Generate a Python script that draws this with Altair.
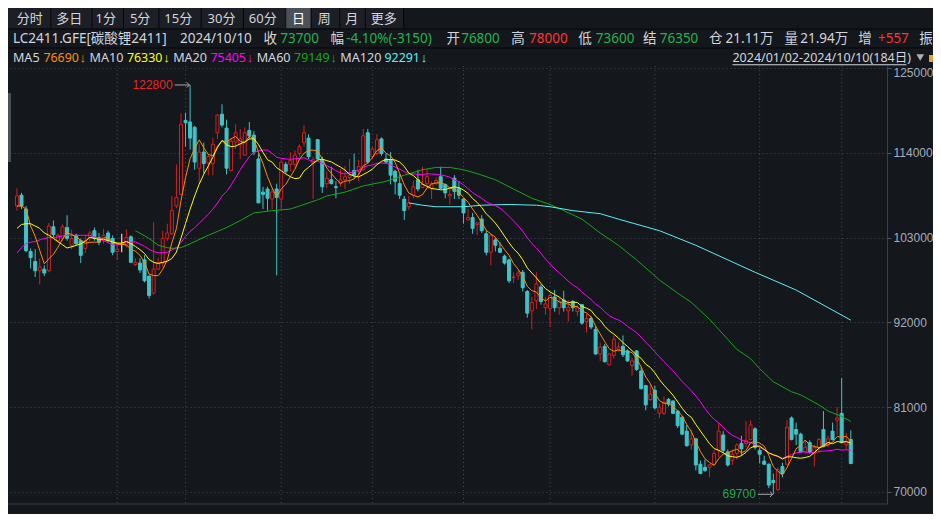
import altair as alt
import pandas as pd

# ---------------- data ----------------
opens = [107100,108500,106700,101200,99900,98700,98900,98700,104400,102600,
         102900,104300,102000,103300,102600,101600,103000,103900,103000,102600,
         103600,102900,101200,102100,102000,103100,99500,99700,100100,98000,
         95800,98900,99700,102900,103500,107100,108600,118200,118000,117300,
         112000,114100,112700,112600,116600,119000,117200,111700,115400,115100,
         113700,116900,116300,113200,108900,109300,108000,109300,108000,112500,
         112500,112500,113900,115300,115900,112700,115700,113100,110000,110500,
         109600,110000,110500,110800,111700,111600,111800,116600,113500,113900,
         115800,113200,113100,111600,110000,108000,107000,108500,110500,109500,
         110000,109400,110000,110900,109900,108400,110700,109400,108000,105300,
         105600,104700,105400,103500,101100,102700,101600,100600,100100,97800,
         98100,98500,96000,93500,94800,96600,93900,93800,95300,93900,
         94900,93500,94700,93400,94300,92100,92500,91100,87900,88900,
         86500,87700,88500,88900,88300,86400,88300,85700,83800,82000,
         83200,80200,80200,82000,81800,80500,79700,77900,76100,76900,
         73600,73200,73200,73600,75400,77400,75200,74100,75000,76300,
         76300,76800,78200,75400,74000,73600,71500,70300,73300,73600,
         79600,78100,77500,75200,76400,75000,75800,78100,76100,77900,
         79300,80200,76100,76800]
highs = [109400,108800,107100,101600,101500,100300,99400,104900,105200,103500,
         104700,105900,104000,103500,102900,103300,103900,104300,103600,104100,
         103900,103300,102200,103500,104100,103300,100300,100300,100700,98100,
         105000,100400,103900,104800,108400,112500,119100,119200,122800,117500,
         115100,115300,113900,115900,119000,120300,118300,115900,117700,117100,
         117300,118000,116800,113900,109600,109600,109300,110000,113100,112800,
         114100,114300,115100,117600,116400,113500,115800,113500,111600,112200,
         110300,111900,112300,113200,113900,113100,117100,117100,114800,116400,
         116000,113900,114100,111800,111200,108400,108400,110400,111800,112200,
         111800,110300,110800,112200,110000,109400,111100,110300,108100,106700,
         106200,105000,105900,103900,103500,103000,102400,100800,100300,98500,
         98800,98800,96200,95300,98500,96900,95300,95800,96200,95200,
         96100,94900,94900,94300,94400,93100,92800,91500,89400,89200,
         88000,90300,89400,90300,88500,87400,88400,86200,83900,83900,
         83800,81500,82400,82200,81900,80600,79800,78700,78100,77000,
         74100,74200,73600,75400,79000,77900,75500,75500,76300,77300,
         79200,79300,78400,75800,74700,73700,72400,73200,73800,79300,
         79800,79000,77700,76700,76700,76100,77000,80500,77300,79000,
         81000,84800,77700,78000]
lows = [106500,106700,101100,99000,97900,96900,98000,98500,102900,102400,
        102600,102600,101500,102000,99700,101000,102600,102600,102000,102200,
        102400,100700,100100,101100,101700,99700,99300,98400,97200,95100,
        95600,98800,99200,102600,103300,106800,108500,114800,114400,111800,
        110000,111300,111100,111100,115800,117300,111200,111600,114500,113200,
        113700,115800,113700,107500,106700,106500,106700,98100,106700,111300,
        111600,112100,113500,114800,113200,108000,113100,108800,109400,109900,
        108100,109600,109300,110000,110700,110300,111600,112600,113200,113700,
        113600,112600,109900,108600,108000,105300,106600,108100,109000,109400,
        109600,108000,109800,109300,108100,107300,108000,108000,104800,105200,
        103500,103300,103600,100700,99400,101200,101000,99500,97100,97100,
        97500,96000,92600,91100,93700,94300,93000,91400,93400,93000,
        93400,92100,93400,92800,91700,90700,91100,87800,87000,86800,
        86400,87300,88200,87500,86900,85100,85700,83300,80600,81800,
        80700,79600,80000,81100,80100,78300,77400,75900,75500,72800,
        72300,72600,71900,73500,74500,75100,73300,73500,74200,74700,
        75800,76700,75500,73700,73500,70500,69700,70100,71900,73500,
        76700,76100,75100,74900,75000,73300,75100,75800,75800,76700,
        77400,76300,75500,73600]
closes = [108400,107100,101300,100400,98700,99200,98400,104500,103400,103300,
          104400,102900,102900,102200,100700,102600,103600,102900,102400,103300,
          102600,101100,101500,102100,103000,99800,99800,98800,97400,95500,
          98900,99700,102900,103600,106500,108200,117700,117900,115900,112800,
          114100,112600,113500,115100,118900,117600,112000,115500,116600,115800,
          116600,116200,114100,107500,108600,108100,108900,108200,112800,111600,
          113000,113700,114800,116600,113500,113100,113200,109600,110700,110000,
          109500,110500,110900,111100,111100,112200,116200,112800,114500,115700,
          113900,112800,111100,110300,108500,106500,107500,109600,109300,109900,
          110900,110000,110400,109400,108800,108600,109000,108500,106200,105600,
          104200,104900,103900,101100,103300,102000,101100,99700,97400,97900,
          98400,96500,93200,94600,97000,94700,94400,95500,93900,94700,
          93900,93900,93900,93900,91900,92500,91400,87900,88800,86900,
          87900,89800,88800,87800,87000,87000,85900,83400,81300,82700,
          80900,81000,81600,81400,80200,78600,77500,76000,76900,73500,
          72400,72800,73500,75000,77900,75400,73500,74900,76100,75600,
          76700,78700,75800,74900,73600,70900,71200,72900,72400,78400,
          76800,77500,75200,75800,75200,75800,76800,75900,76900,76800,
          79600,76400,76400,73700]

early_ma5 = [107100, 107100, 106700, 104500]
early_ma10 = [104200, 104700, 104800, 104800, 104500, 104200, 103600, 103300, 102900]
early_ma20 = [101000, 101700, 102200, 102400, 102500, 102700, 102900, 103000, 103000, 103100,
              103200, 103300, 103300, 103300, 103300, 103300, 103300, 103100, 102900]

ma60_idx = [26, 29, 31, 33, 34, 36, 38, 42, 46, 49, 52, 56, 60, 63, 66, 68, 72, 76, 81, 85,
            89, 92, 95, 98, 101, 105, 109, 113, 117, 120, 124, 128, 132, 136, 141, 145, 148,
            152, 156, 158, 161, 163, 166, 170, 172, 176, 178, 181, 183]
ma60_val = [103900, 102900, 102000, 101700, 101600, 101700, 102200, 103300, 104300, 105200,
            106200, 106500, 106700, 107300, 107900, 108400, 108900, 109700, 110300, 111100,
            111800, 112100, 112100, 111800, 111300, 110500, 109300, 108100, 107300, 106500,
            105400, 103600, 102000, 100100, 97500, 95800, 94600, 92400, 89800, 88500, 87300,
            86000, 84300, 83000, 82600, 81300, 80500, 79800, 79149]
ma120_idx = [86, 89, 92, 98, 102, 108, 114, 117, 122, 128, 132, 141, 149, 162, 171, 183]
ma120_val = [107500, 107200, 107000, 107000, 107200, 107300, 107200, 107000, 106500, 106100,
             105400, 103900, 102000, 98500, 96200, 92291]

month_idx = [22, 37, 58, 78, 98, 117, 140, 163, 181]
y_ticks = [70000, 81000, 92000, 103000, 114000, 125000]

high_idx, high_val = 38, 122800
low_idx, low_val = 166, 69700

toolbar_labels = ["分时", "多日", "1分", "5分", "15分", "30分", "60分", "日", "周", "月", "更多"]
quote_row = [("LC2411.GFE[碳酸锂2411]", "t"), ("2024/10/10", "t"), ("收", "t"), ("73700", "g"),
             ("幅", "t"), ("-4.10%(-3150)", "g"), ("开", "t"), ("76800", "g"), ("高", "t"),
             ("78000", "r"), ("低", "t"), ("73600", "g"), ("结", "t"), ("76350", "g"),
             ("仓", "t"), ("21.11万", "t"), ("量", "t"), ("21.94万", "t"), ("增", "t"),
             ("+557", "r"), ("振", "t")]
ma_names = ["MA5", "MA10", "MA20", "MA60", "MA120"]
ma_latest = ["76690", "76330", "75405", "79149", "92291"]
ma_trend = "↓"
range_label = "2024/01/02-2024/10/10(184日)"

# ---------------- layout / style ----------------
BG = "#14171c"
UP = "#d81e1e"
DOWN = "#3fc4c8"
C5, C10, C20, C60, C120 = "#ff8c00", "#ffff00", "#ff00ff", "#13a813", "#5af0f6"
MA_COLORS = [C5, C10, C20, C60, C120]
GRID = "#474b52"
TXT = "#d2d6dc"
COLORS = {"t": TXT, "g": "#22b34f", "r": "#ff3333"}
HF = "Noto Sans, Noto Sans CJK SC, sans-serif"
W, H = 879, 438
TOP, RIGHT, BOTTOM = 58, 46, 10
SX = 925 / 941.0

xs = alt.Scale(domain=[-0.868, 189.85], nice=False, zero=False)
ys = alt.Scale(domain=[68443, 125259], nice=False, zero=False)
yaxis = alt.Axis(orient="right", values=y_ticks, format="d", title=None,
                 grid=True, gridColor=GRID, gridDash=[1, 3], gridWidth=1,
                 domain=True, domainColor="#3c4047", ticks=True, tickColor="#4f545c",
                 tickSize=4, labelColor="#a4adbb", labelFont="Liberation Sans",
                 labelFontSize=12, labelPadding=2, labelFlush=5)
xaxis = None

n = len(closes)
kind = []
for o, c in zip(opens, closes):
    kind.append("doji" if o == c else ("up" if c > o else "down"))
df = pd.DataFrame({"i": list(range(n)), "o": opens, "h": highs, "l": lows, "c": closes, "k": kind})

early_rows = []
for j in range(len(early_ma20)):
    row = {"i": j, "e20": early_ma20[j]}
    if j < len(early_ma5):
        row["e5"] = early_ma5[j]
    if j < len(early_ma10):
        row["e10"] = early_ma10[j]
    early_rows.append(row)

dummy = pd.DataFrame({"d": [0]})


def hx(x):
    return x * SX


def text(s, x, y, color=TXT, size=13.5, font=HF, align="left", **kw):
    return alt.Chart(dummy).mark_text(text=s, align=align, baseline="middle", color=color,
                                      fontSize=size, font=font, **kw).encode(
        x=alt.value(x), y=alt.value(y - TOP))


def rect(x1, x2, y1, y2, color):
    return alt.Chart(dummy).mark_rect(color=color).encode(
        x=alt.value(x1), x2=alt.value(x2), y=alt.value(y1 - TOP), y2=alt.value(y2 - TOP))


layers = []

# toolbar
tb_left = [9, 49, 89, 124, 159, 203, 245, 289, 315, 343, 369]
tb_seps = [43, 85, 117, 153, 196, 239, 282, 308, 337, 363, 402]
layers.append(rect(0, hx(402), 0, 20.5, "#1c1f25"))
layers.append(rect(hx(282), hx(308), 0, 20.5, "#4b5059"))
for s in tb_seps:
    layers.append(rect(hx(s), hx(s) + 1, 0, 20.5, "#050607"))
for lab, x in zip(toolbar_labels, tb_left):
    layers.append(text(lab, hx(x), 10.5, color="#ffffff" if lab == "日" else TXT, size=13))
layers.append(rect(0, 925, 20.5, 21.5, "#050607"))
layers.append(rect(0, 925, 39.5, 40.5, "#050607"))

# quote row
q_left = [5, 175, 260, 277, 328, 344, 446, 461, 512, 530, 580, 598, 646, 663, 713, 730,
          790, 806, 865, 885, 927]
for (s, c), x in zip(quote_row, q_left):
    layers.append(text(s, hx(x), 30.5, color=COLORS[c]))

# MA row
name_left = [5, 83, 168, 253, 338]
val_left = [36, 121, 206, 291, 383]
for nm, val, col, xn, xv in zip(ma_names, ma_latest, MA_COLORS, name_left, val_left):
    layers.append(text(nm, hx(xn), 49.5, color=TXT, size=12.6))
    layers.append(text(val, hx(xv), 49.5, color=col, size=12.4))
    layers.append(text(ma_trend, hx(xv) + 36.2, 49.5, color=col, size=13,
                       font="Liberation Sans", align="left"))
layers.append(text(range_label, hx(737), 49.5, color=TXT, size=12.5))
layers.append(rect(hx(737), hx(914), 56.2, 57.2, TXT))
layers.append(alt.Chart(dummy).mark_point(shape="triangle-down", filled=True, size=60,
                                          color="#b0b0b0", opacity=1).encode(
    x=alt.value(hx(928)), y=alt.value(49.5 - TOP)))
layers.append(rect(921, 925, 47, 54, "#e3a23a"))

# plot decorations
layers.append(rect(0, 3, TOP + 27, TOP + 96, "#4a4e56"))
layers.append(alt.Chart(pd.DataFrame({"i": month_idx})).mark_rule(
    color=GRID, strokeDash=[1, 3], strokeWidth=1).encode(
    x=alt.X("i:Q", scale=xs, axis=xaxis), y=alt.value(0), y2=alt.value(H)))
layers.append(rect(0, W, TOP + H - 0.5, TOP + H + 0.5, "#3c4047"))

# candles
kscale_stroke = alt.Scale(domain=["up", "down", "doji"], range=[UP, DOWN, "#ffffff"])
kscale_fill = alt.Scale(domain=["up", "down", "doji"], range=[BG, DOWN, "#ffffff"])
wick = alt.Chart(df).mark_rule(strokeWidth=1).encode(
    x=alt.X("i:Q", scale=xs, axis=xaxis),
    y=alt.Y("l:Q", scale=ys, axis=yaxis),
    y2="h:Q",
    stroke=alt.Stroke("k:N", scale=kscale_stroke, legend=None))
body = alt.Chart(df).mark_bar(size=3, strokeWidth=1).encode(
    x=alt.X("i:Q", scale=xs, axis=xaxis),
    y=alt.Y("o:Q", scale=ys, axis=yaxis),
    y2="c:Q",
    fill=alt.Fill("k:N", scale=kscale_fill, legend=None),
    stroke=alt.Stroke("k:N", scale=kscale_stroke, legend=None))
layers += [wick, body]

# long averages
ma60 = alt.Chart(pd.DataFrame({"i": ma60_idx, "v": ma60_val})).mark_line(
    strokeWidth=1, color=C60).encode(x=alt.X("i:Q", scale=xs, axis=xaxis),
                                      y=alt.Y("v:Q", scale=ys, axis=yaxis))
ma120 = alt.Chart(pd.DataFrame({"i": ma120_idx, "v": ma120_val})).mark_line(
    strokeWidth=1, color=C120).encode(x=alt.X("i:Q", scale=xs, axis=xaxis),
                                       y=alt.Y("v:Q", scale=ys, axis=yaxis))
layers += [ma60, ma120]

# MA5 / MA10 / MA20 from the closes
srt = [alt.SortField("i", order="ascending")]
ma_base = (alt.Chart(df)
           .transform_window(ma5="mean(c)", frame=[-4, 0], sort=srt)
           .transform_window(ma10="mean(c)", frame=[-9, 0], sort=srt)
           .transform_window(ma20="mean(c)", frame=[-19, 0], sort=srt)
           .transform_lookup(lookup="i",
                             from_=alt.LookupData(data=alt.InlineData(values=early_rows),
                                                  key="i", fields=["e5", "e10", "e20"]))
           .transform_calculate(MA5="isValid(datum.e5) ? datum.e5 : datum.ma5",
                                MA10="isValid(datum.e10) ? datum.e10 : datum.ma10",
                                MA20="isValid(datum.e20) ? datum.e20 : datum.ma20"))
for fld, col in [("MA20", C20), ("MA5", C5), ("MA10", C10)]:
    layers.append(ma_base.mark_line(strokeWidth=1, color=col).encode(
        x=alt.X("i:Q", scale=xs, axis=xaxis),
        y=alt.Y(f"{fld}:Q", scale=ys, axis=yaxis),
        order=alt.Order("i:Q")))

# extreme annotations
for idx_, val_, col_ in [(high_idx, high_val, "#e8262b"), (low_idx, low_val, "#22a84a")]:
    a = alt.Chart(pd.DataFrame({"i": [idx_], "v": [val_], "t": [str(val_)]})).transform_calculate(
        i0="datum.i - 3.4", i1="datum.i - 0.15")
    layers.append(a.mark_rule(color="#a8a8a8", strokeWidth=1).encode(
        x=alt.X("i0:Q", scale=xs, axis=xaxis), x2="i1:Q", y=alt.Y("v:Q", scale=ys, axis=yaxis)))
    layers.append(a.mark_point(shape="M -1 -1 L 0 0 L -1 1", filled=False, size=30,
                               color="#a8a8a8", strokeWidth=1, opacity=1).encode(
        x=alt.X("i1:Q", scale=xs, axis=xaxis), y=alt.Y("v:Q", scale=ys, axis=yaxis)))
    layers.append(a.mark_text(align="right", baseline="middle", dx=-2, fontSize=12,
                              font="Liberation Sans", color=col_).encode(
        x=alt.X("i0:Q", scale=xs, axis=xaxis), y=alt.Y("v:Q", scale=ys, axis=yaxis),
        text="t:N"))

chart = alt.layer(*layers).properties(
    width=W, height=H,
    padding={"left": 0, "top": TOP, "right": RIGHT, "bottom": BOTTOM},
    autosize=alt.AutoSizeParams(type="none"),
    background=BG,
).configure_view(strokeWidth=0)

chart.save("out.html", embed_options={"renderer": "svg", "actions": False})
